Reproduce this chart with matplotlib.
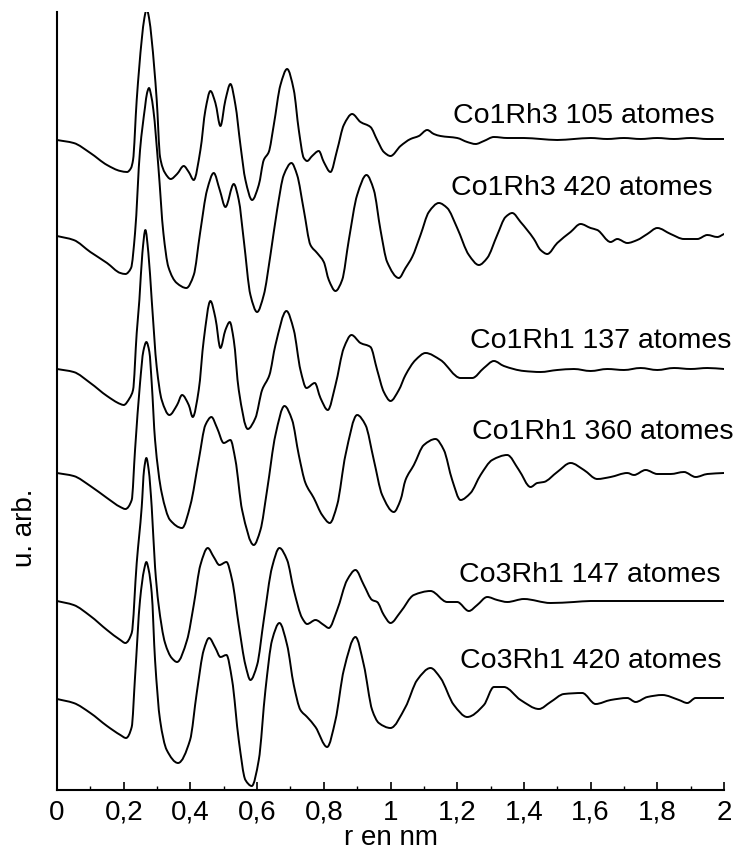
import matplotlib
matplotlib.use("Agg")
import numpy as np
import matplotlib.pyplot as plt
from matplotlib.path import Path
from matplotlib.patches import PathPatch
from matplotlib.ticker import MultipleLocator, FuncFormatter

plt.rcParams['font.family'] = ['Liberation Sans', 'DejaVu Sans']

# r in nm, G(r) in arbitrary units (relative to each curve's own baseline)
r_co1rh3_105 = [0, 0.05, 0.1, 0.15, 0.19, 0.21, 0.222, 0.228, 0.239, 0.254,
                0.262, 0.269, 0.276, 0.284, 0.299, 0.309, 0.324, 0.341, 0.36, 0.38,
                0.395, 0.41, 0.43, 0.445, 0.46, 0.475, 0.49, 0.505, 0.52, 0.535,
                0.55, 0.565, 0.585, 0.605, 0.62, 0.635, 0.65, 0.67, 0.69, 0.71,
                0.725, 0.74, 0.75, 0.765, 0.785, 0.80, 0.82, 0.84, 0.86, 0.885,
                0.91, 0.94, 0.96, 0.98, 1.0, 1.03, 1.06, 1.085, 1.11, 1.13,
                1.15, 1.2, 1.23, 1.255, 1.28, 1.31, 1.35, 1.4, 1.45, 1.5,
                1.55, 1.6, 1.65, 1.7, 1.75, 1.8, 1.85, 1.9, 1.95, 2.0]
g_co1rh3_105 = [-1, -4, -14, -26, -32, -33, -29, -21, 39, 99,
                121, 130, 121, 99, 39, -18, -34, -40, -35, -27,
                -33, -41, -11, 29, 48, 36, 13, 39, 55, 34,
                -6, -41, -61, -46, -21, -13, 14, 54, 70, 49,
                9, -19, -22, -17, -12, -23, -33, -11, 14, 25,
                17, 12, -1, -13, -17, -7, 0, 3, 9, 5,
                3, 1, -3, -5, -2, 2, 1, 1, 0, -1,
                0, 1, 0, 1, 0, 1, 0, 1, 0, 0]

r_co1rh3_420 = [0, 0.05, 0.1, 0.15, 0.19, 0.205, 0.222, 0.234, 0.249, 0.264,
                0.27, 0.276, 0.282, 0.289, 0.304, 0.319, 0.334, 0.359, 0.388, 0.41,
                0.429, 0.45, 0.47, 0.488, 0.505, 0.53, 0.545, 0.56, 0.58, 0.6,
                0.62, 0.64, 0.66, 0.68, 0.703, 0.72, 0.74, 0.76, 0.78, 0.80,
                0.815, 0.835, 0.855, 0.875, 0.9, 0.928, 0.95, 0.97, 0.99, 1.025,
                1.045, 1.065, 1.09, 1.115, 1.145, 1.17, 1.2, 1.235, 1.265, 1.29,
                1.32, 1.345, 1.365, 1.39, 1.43, 1.45, 1.47, 1.5, 1.54, 1.57,
                1.6, 1.62, 1.66, 1.68, 1.71, 1.74, 1.77, 1.8, 1.84, 1.88,
                1.92, 1.95, 1.98, 2.0]
g_co1rh3_420 = [0, -4, -16, -27, -37, -38, -32, 3, 86, 129,
                143, 148, 141, 126, 69, 3, -31, -47, -52, -39,
                3, 46, 63, 46, 29, 52, 36, -4, -59, -76,
                -59, -19, 26, 61, 73, 61, 26, -9, -17, -26,
                -44, -55, -44, -4, 41, 61, 46, 6, -26, -42,
                -32, -21, 1, 24, 33, 28, 8, -19, -29, -22,
                1, 19, 23, 14, -3, -14, -18, -7, 4, 12,
                8, 6, -6, -3, -7, -4, 2, 8, 2, -3,
                -3, 1, -1, 2]

r_co1rh1_137 = [0, 0.05, 0.1, 0.15, 0.19, 0.2, 0.218, 0.228, 0.239, 0.247,
                0.256, 0.265, 0.274, 0.284, 0.299, 0.314, 0.337, 0.36, 0.375, 0.395,
                0.407, 0.425, 0.44, 0.46, 0.475, 0.49, 0.505, 0.518, 0.53, 0.545,
                0.572, 0.595, 0.615, 0.637, 0.655, 0.688, 0.71, 0.73, 0.748, 0.773,
                0.79, 0.812, 0.835, 0.86, 0.883, 0.91, 0.94, 0.96, 0.98, 1.0,
                1.025, 1.045, 1.075, 1.105, 1.15, 1.21, 1.245, 1.28, 1.31, 1.34,
                1.4, 1.45, 1.5, 1.55, 1.6, 1.65, 1.7, 1.75, 1.8, 1.85,
                1.9, 1.95, 2.0]
g_co1rh1_137 = [0, -3, -14, -27, -35, -36, -29, -21, 36, 69,
                116, 139, 116, 69, 2, -31, -46, -36, -26, -36,
                -48, -21, 29, 68, 51, 21, 39, 47, 29, -21,
                -60, -49, -21, -6, 24, 58, 39, -1, -19, -14,
                -29, -41, -16, 21, 34, 26, 22, -1, -23, -32,
                -21, -6, 9, 16, 9, -9, -9, 1, 8, 3,
                -2, -3, -1, 0, -2, 0, -1, 1, -1, 1,
                0, 1, 0]

r_co1rh1_360 = [0, 0.05, 0.1, 0.15, 0.19, 0.205, 0.224, 0.234, 0.249, 0.259,
                0.268, 0.277, 0.284, 0.294, 0.314, 0.339, 0.375, 0.4, 0.425, 0.445,
                0.463, 0.48, 0.5, 0.52, 0.535, 0.555, 0.59, 0.61, 0.63, 0.655,
                0.682, 0.705, 0.725, 0.745, 0.77, 0.795, 0.818, 0.84, 0.865, 0.9,
                0.925, 0.95, 0.975, 1.01, 1.03, 1.045, 1.07, 1.1, 1.135, 1.16,
                1.185, 1.21, 1.24, 1.27, 1.305, 1.35, 1.385, 1.42, 1.44, 1.46,
                1.5, 1.54, 1.58, 1.62, 1.66, 1.71, 1.73, 1.765, 1.8, 1.84,
                1.88, 1.915, 1.95, 2.0]
g_co1rh1_360 = [0, -3, -13, -25, -34, -36, -27, 23, 90, 122,
                131, 121, 90, 33, -20, -47, -55, -32, 13, 48,
                56, 45, 30, 33, 13, -37, -72, -57, -17, 38,
                67, 53, 18, -10, -25, -42, -50, -32, 18, 58,
                48, 13, -22, -39, -27, -7, 8, 28, 34, 23,
                -7, -27, -20, -2, 13, 18, 3, -14, -10, -9,
                1, 10, 3, -6, -4, 0, -2, 3, -1, -1,
                1, -4, -1, 0]

r_co3rh1_147 = [0, 0.05, 0.1, 0.15, 0.19, 0.205, 0.224, 0.239, 0.254, 0.261,
                0.268, 0.275, 0.284, 0.294, 0.304, 0.324, 0.344, 0.36, 0.39, 0.41,
                0.43, 0.452, 0.47, 0.487, 0.508, 0.525, 0.545, 0.565, 0.58, 0.6,
                0.62, 0.645, 0.667, 0.69, 0.71, 0.735, 0.75, 0.775, 0.8, 0.815,
                0.84, 0.87, 0.895, 0.92, 0.945, 0.96, 0.98, 1.0, 1.03, 1.07,
                1.12, 1.17, 1.2, 1.235, 1.26, 1.29, 1.32, 1.35, 1.4, 1.48,
                1.55, 1.6, 1.7, 1.8, 1.9, 2.0]
g_co3rh1_147 = [0, -4, -15, -29, -39, -42, -32, 38, 94, 131,
                143, 131, 94, 34, -2, -42, -57, -61, -39, -4,
                36, 53, 44, 36, 39, 21, -24, -64, -79, -64,
                -19, 34, 53, 41, 11, -17, -23, -19, -24, -27,
                -9, 21, 31, 16, 1, -1, -14, -22, -11, 6,
                10, -1, -1, -10, -4, 4, 1, -1, 2, -2,
                -1, 0, 0, 0, 0, 0]

r_co3rh1_420 = [0, 0.05, 0.1, 0.15, 0.19, 0.207, 0.224, 0.234, 0.249, 0.261,
                0.268, 0.275, 0.284, 0.294, 0.309, 0.329, 0.363, 0.399, 0.419, 0.44,
                0.456, 0.475, 0.49, 0.508, 0.525, 0.545, 0.565, 0.584, 0.605, 0.625,
                0.645, 0.667, 0.69, 0.71, 0.73, 0.75, 0.775, 0.81, 0.835, 0.86,
                0.895, 0.92, 0.945, 0.965, 1.0, 1.045, 1.08, 1.12, 1.15, 1.19,
                1.23, 1.28, 1.31, 1.34, 1.39, 1.445, 1.48, 1.52, 1.575, 1.615,
                1.66, 1.71, 1.735, 1.77, 1.815, 1.865, 1.89, 1.915, 2.0]
g_co3rh1_420 = [0, -4, -14, -27, -36, -39, -28, 22, 99, 129,
                137, 129, 106, 39, -21, -51, -64, -41, 6, 49,
                61, 51, 42, 44, 19, -41, -81, -87, -61, 9,
                59, 76, 54, 14, -11, -18, -28, -48, -21, 29,
                62, 34, -11, -24, -29, -8, 19, 31, 21, -6,
                -18, -6, 12, 12, -1, -10, -3, 5, 6, -5,
                -1, 1, -3, 2, 4, -1, -4, 1, 1]

names = ["Co1Rh3 105 atomes", "Co1Rh3 420 atomes", "Co1Rh1 137 atomes",
         "Co1Rh1 360 atomes", "Co3Rh1 147 atomes", "Co3Rh1 420 atomes"]
curves = [(r_co1rh3_105, g_co1rh3_105), (r_co1rh3_420, g_co1rh3_420),
          (r_co1rh1_137, g_co1rh1_137), (r_co1rh1_360, g_co1rh1_360),
          (r_co3rh1_147, g_co3rh1_147), (r_co3rh1_420, g_co3rh1_420)]

# vertical stacking of the curves
offsets = [651, 554, 421, 317, 189, 91]
# label placement: right edge (nm) and baseline height above the curve
label_x = [1.973, 1.967, 2.021, 2.027, 1.991, 1.994]
label_dy = [16, 41, 21, 34, 19, 31]


def smooth_path(x, y):
    # smooth drawing through the read points: monotone cubic (pchip) tangents
    # turned into bezier segments, so no extra data points are made up
    x = np.asarray(x, float)
    y = np.asarray(y, float)
    h = np.diff(x)
    d = np.diff(y) / h
    m = np.zeros_like(y)
    m[0], m[-1] = d[0], d[-1]
    for i in range(1, len(x) - 1):
        if d[i - 1] * d[i] > 0:
            w1 = 2 * h[i] + h[i - 1]
            w2 = h[i] + 2 * h[i - 1]
            m[i] = (w1 + w2) / (w1 / d[i - 1] + w2 / d[i])
    verts = [(x[0], y[0])]
    codes = [Path.MOVETO]
    for i in range(len(x) - 1):
        s = h[i] / 3
        verts += [(x[i] + s, y[i] + m[i] * s),
                  (x[i + 1] - s, y[i + 1] - m[i + 1] * s),
                  (x[i + 1], y[i + 1])]
        codes += [Path.CURVE4] * 3
    return Path(verts, codes)


fig = plt.figure(figsize=(7.37, 8.52), dpi=100)
ax = fig.add_axes([57 / 737, 62 / 852, 667 / 737, 778 / 852])

for (r, g), off in zip(curves, offsets):
    path = smooth_path(r, [v + off for v in g])
    ax.add_patch(PathPatch(path, fill=False, edgecolor="black", lw=1.4,
                           capstyle="round", joinstyle="round"))

for name, lx, dy, off in zip(names, label_x, label_dy, offsets):
    ax.text(lx, off + dy, name, ha="right", va="baseline", fontsize=20.5,
            clip_on=False)

ax.set_xlim(0, 2)
ax.set_ylim(0, 778)
ax.spines["top"].set_visible(False)
ax.spines["right"].set_visible(False)
ax.spines["left"].set_linewidth(1.5)
ax.spines["bottom"].set_linewidth(1.5)
ax.set_yticks([])

ax.xaxis.set_major_locator(MultipleLocator(0.2))
ax.xaxis.set_minor_locator(MultipleLocator(0.1))
ax.xaxis.set_major_formatter(FuncFormatter(lambda v, p: f"{v:g}".replace(".", ",")))
ax.tick_params(axis="x", which="major", direction="in", length=6, width=1.2,
               labelsize=20, pad=7)
ax.tick_params(axis="x", which="minor", direction="in", length=3, width=1.0)

ax.set_xlabel("r en nm", fontsize=20, va="center")
ax.xaxis.set_label_coords(0.5, -0.0617)
ax.set_ylabel("u. arb.", fontsize=20, va="center")
ax.yaxis.set_label_coords(-0.048, 0.337)

fig.savefig("out.png", dpi=100)
